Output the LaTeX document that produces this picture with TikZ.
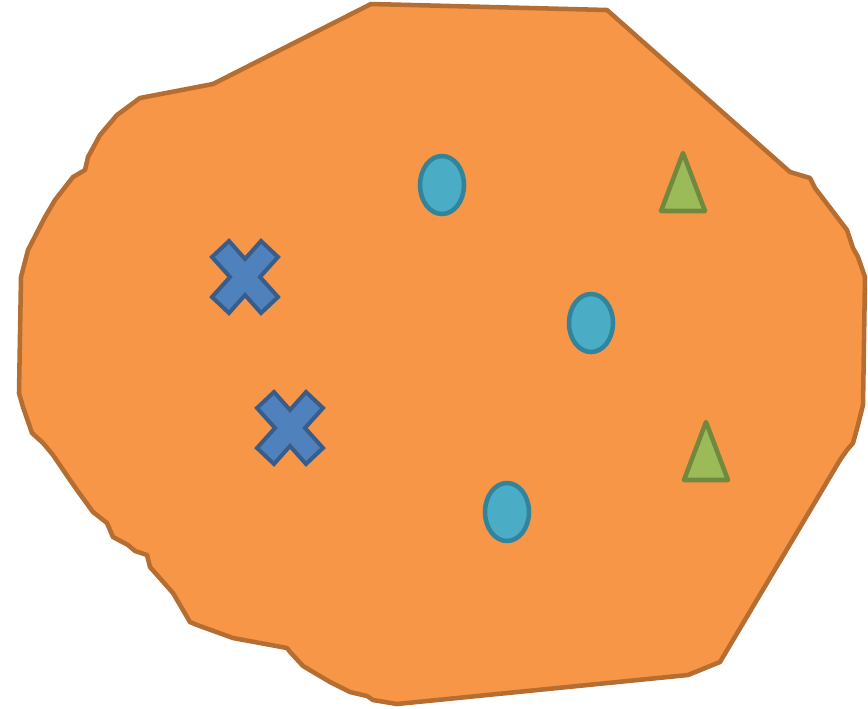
\documentclass[tikz,border=0pt]{standalone}
\definecolor{blobfill}{HTML}{F79646}
\definecolor{blobline}{HTML}{B66D31}
\definecolor{ovfill}{HTML}{4BACC6}
\definecolor{ovline}{HTML}{31849B}
\definecolor{trfill}{HTML}{9BBB59}
\definecolor{trline}{HTML}{71893F}
\definecolor{xfill}{HTML}{4F81BD}
\definecolor{xline}{HTML}{385D8A}
\tikzset{
  blob/.style={fill=blobfill,draw=blobline,line width=3.4pt,line join=round},
  oval/.style={fill=ovfill,draw=ovline,line width=3.4pt},
  tri/.style={fill=trfill,draw=trline,line width=3.4pt,line join=round},
  cross/.style={fill=xfill,draw=xline,line width=3pt,line join=miter},
  pics/xmark/.style={code={
    \path[cross] (-33,-20) -- (-16,-36) -- (0,-18) -- (16,-36) -- (33,-20) -- (15,0)
      -- (33,20) -- (16,36) -- (0,18) -- (-16,36) -- (-33,20) -- (-15,0) -- cycle;}},
  pics/trimark/.style={code={
    \path[tri] (0,-29) -- (22,29) -- (-22,29) -- cycle;}}
}
\begin{document}
\begin{tikzpicture}[x=0.75pt,y=-0.75pt]
\useasboundingbox (0,0) rectangle (868,708);
\path[blob] (371,4) -- (607,10) -- (790,172) -- (810,178) -- (815,188) -- (847,230)
  -- (853,248) -- (858,257) -- (865,277) -- (863,405) -- (858,425) -- (853,443)
  -- (847,450) -- (840,460) -- (720,662) -- (688,675) -- (397,704) -- (373,700)
  -- (367,696) -- (350,692) -- (330,682) -- (303,666) -- (291,653) -- (287,648)
  -- (233,638) -- (197,625) -- (190,622) -- (173,593) -- (150,567) -- (147,555)
  -- (135,551) -- (128,545) -- (113,537) -- (107,523) -- (93,512) -- (77,490)
  -- (70,480) -- (53,455) -- (43,443) -- (32,433) -- (23,407) -- (19,393)
  -- (21,277) -- (28,250) -- (45,217) -- (55,200) -- (73,177) -- (85,170)
  -- (88,157) -- (100,135) -- (117,115) -- (140,98) -- (213,84) -- cycle;
\path[oval] (442,185) ellipse [x radius=22, y radius=29];
\path[oval] (591,323) ellipse [x radius=22, y radius=29];
\path[oval] (507,512) ellipse [x radius=22, y radius=29];
\pic at (683,182) {trimark};
\pic at (706,451) {trimark};
\pic at (245,277) {xmark};
\pic at (290,428) {xmark};
\end{tikzpicture}
\end{document}
